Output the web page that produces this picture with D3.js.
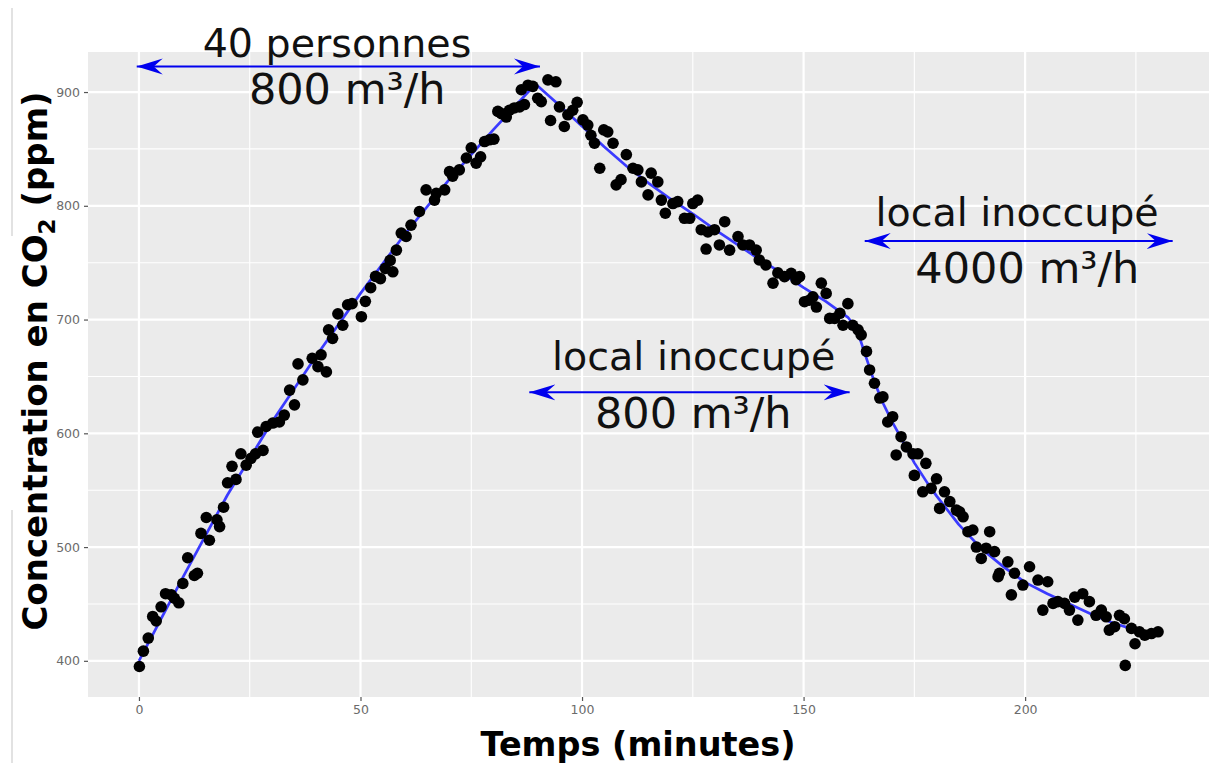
<!DOCTYPE html>
<html>
<head>
<meta charset="utf-8">
<script src="https://cdn.jsdelivr.net/npm/d3@7"></script>
<style>
  html, body { margin: 0; padding: 0; background: #ffffff; }
  svg { display: block; }
  text { font-family: "DejaVu Sans", Verdana, sans-serif; }
</style>
</head>
<body>
<svg id="chart" width="1209" height="763"></svg>
<script>
// CO2 measurements: time (minutes) and concentration (ppm)
const sampleTimes = [
  0.1, 1, 2.1, 3.1, 3.9, 5, 6, 7.3, 8, 9, 9.9, 11, 12.5, 13.2, 14, 15.2, 15.9, 17.6, 18.2, 19.1,
  20, 21, 21.9, 23, 24.2, 25.3, 26.3, 26.8, 28, 28.7, 30.2, 31.7, 32.8, 34, 35.1, 35.9, 37, 39.1, 40.4, 41.1,
  42.3, 42.8, 43.7, 44.9, 46, 47.1, 48.1, 50.2, 51.1, 52.3, 53.4, 54.5, 55.6, 56.7, 57.3, 58.1, 59.2, 60.3, 61.4, 63.3,
  64.8, 66.7, 67.1, 69, 70.1, 70.8, 72.3, 73.9, 75, 76.1, 77.1, 78, 79.1, 80.1, 81, 81.8, 82.9, 83.6, 84.7, 85.9,
  86.3, 87, 87.8, 88.9, 90, 90.8, 92.3, 92.9, 94.1, 94.9, 96, 96.8, 97.9, 98.9, 100.2, 101.3, 102, 102.8, 104, 104.9,
  105.8, 107, 107.7, 108.8, 110, 111.5, 112.6, 113.4, 114.9, 115.6, 117.1, 117.9, 118.8, 120.5, 121.6, 123.1, 124.3, 125, 126.1, 126.9,
  128, 128.4, 129.9, 131, 132.2, 133.3, 135.2, 136.3, 137.8, 139.3, 140, 141.5, 143.1, 144.2, 145.7, 147.2, 148.3, 149.1, 150.2, 151.3,
  152.1, 152.9, 154, 155.1, 155.9, 157, 158.2, 158.9, 160, 161.1, 162.3, 163, 164.2, 164.9, 166, 167.2, 167.9, 169, 170.1, 170.9,
  172, 173.2, 174.7, 175, 175.8, 176.9, 177.6, 178.8, 180, 180.7, 181.8, 183, 184.5, 185.2, 186, 187.1, 188.2, 189, 190.1, 191.2,
  192, 193.1, 193.9, 194.2, 196.1, 196.9, 197.6, 199.5, 201, 202.9, 204, 205.1, 206.3, 207.4, 208.9, 210, 211.2, 211.9, 213, 214.5,
  216, 217.2, 218.3, 219, 220.2, 221.3, 222.4, 222.6, 224, 224.8, 225.8, 227, 228.5, 230
];
const sampleValues = [
  395, 408.5, 420, 439, 435, 447.5, 459, 458, 455, 451, 468, 490.6, 475, 477, 512, 526, 506, 524, 518, 535,
  556.5, 571, 559.5, 582, 572, 578, 582, 601, 585, 606, 609, 610, 616, 638, 625, 661, 647, 666, 658.6, 669,
  654, 691, 683.5, 705, 695, 713, 714, 702.5, 716, 728, 738, 736, 745, 752, 742, 761, 776, 773, 783, 795,
  814, 805, 811, 814, 830, 826, 831.6, 842, 851, 837.5, 843, 856.5, 858, 858.6, 883, 881, 878, 884, 886, 887,
  902, 889, 906, 905, 894.6, 891.6, 910.7, 875, 909, 887, 869.7, 880, 884, 891, 875.5, 871, 862, 855, 833, 866.7,
  865, 855, 818.4, 823, 845, 833, 831.6, 821, 809.6, 828.7, 821, 805, 793.5, 802, 803.7, 789, 789, 802, 805, 779,
  762, 777, 779, 765.6, 786, 761, 773, 765.6, 765.6, 761, 752.4, 748, 732, 741, 737.7, 740.7, 735, 737.7, 715.7, 717,
  720, 711, 732, 723, 701, 701, 705.5, 695, 714, 695, 691, 686.5, 672, 655.7, 644, 631, 632, 610, 614.6, 581,
  597, 588, 582, 563, 582, 548.6, 573.6, 551.6, 560, 534, 548.6, 540, 532.5, 531, 526.6, 513.5, 515, 500, 490, 499,
  513.5, 496, 474, 477, 487, 458, 477, 466.6, 482.7, 471, 444.6, 469.5, 450.5, 452, 450.5, 444.6, 456, 435.8, 459, 452,
  440, 444.6, 438.7, 427, 430, 440, 437, 396, 428.5, 415, 425.5, 422.6, 424, 425.5
];

// Fitted model curve (vertices of the blue line)
const fitTimes = [0, 10, 20, 30, 40, 50, 60, 70, 80, 89.5, 95, 100, 105, 110, 115, 120, 125, 130, 135, 140,
  145, 150, 155, 160, 161, 162, 163, 164, 166, 168, 170, 172, 175, 178, 180, 185, 190, 195, 200, 205,
  210, 215, 220, 225, 230];
const fitValues = [400, 474, 546, 610, 668, 723, 775, 823, 867, 907, 888, 870, 852, 835, 820, 806, 793, 779, 766, 753,
  741, 728, 716, 702, 697, 690, 680, 668, 645, 626, 610, 596, 574, 556, 545, 520, 499, 483, 469, 459,
  450, 441, 433, 427, 422];

// Phase annotations: arrow span (minutes), arrow level (ppm), and the two text lines
const phaseLabels = [
  { from: -0.5, to: 90.5, level: 922.5, line1: "40 personnes", t1: 44.7, v1: 930.8, line2: "800 m³/h", t2: 47, v2: 889.5 },
  { from: 88.1, to: 160.4, level: 636, line1: "local inoccupé", t1: 125.2, v1: 655.6, line2: "800 m³/h", t2: 125.1, v2: 604.6 },
  { from: 163.8, to: 233.3, level: 769, line1: "local inoccupé", t1: 198.2, v1: 782, line2: "4000 m³/h", t2: 200.5, v2: 732 }
];

const xMajorTicks = [0, 50, 100, 150, 200];
const xMinorTicks = [25, 75, 125, 175, 225];
const yMajorTicks = [400, 500, 600, 700, 800, 900];
const yMinorTicks = [450, 550, 650, 750, 850];

const svg = d3.select("#chart");
const panel = { left: 88, right: 1209, top: 52, bottom: 697 };

const x = d3.scaleLinear().domain([-11.5, 241.5]).range([panel.left, panel.right]);
const y = d3.scaleLinear().domain([368.2, 935.2]).range([panel.bottom, panel.top]);

// thin frame line on the far left
svg.append("line").attr("x1", 12).attr("x2", 12).attr("y1", 8).attr("y2", 236)
  .attr("stroke", "#d9d9d9").attr("stroke-width", 1.5);
svg.append("line").attr("x1", 12).attr("x2", 12).attr("y1", 510).attr("y2", 763)
  .attr("stroke", "#d9d9d9").attr("stroke-width", 1.5);

// panel background
svg.append("rect")
  .attr("x", panel.left).attr("y", panel.top)
  .attr("width", panel.right - panel.left).attr("height", panel.bottom - panel.top)
  .attr("fill", "#ebebeb");

const grid = svg.append("g");
grid.selectAll(".ymin").data(yMinorTicks).join("line")
  .attr("x1", panel.left).attr("x2", panel.right)
  .attr("y1", d => y(d)).attr("y2", d => y(d))
  .attr("stroke", "#ffffff").attr("stroke-width", 1.1);
grid.selectAll(".xmin").data(xMinorTicks).join("line")
  .attr("y1", panel.top).attr("y2", panel.bottom)
  .attr("x1", d => x(d)).attr("x2", d => x(d))
  .attr("stroke", "#ffffff").attr("stroke-width", 1.1);
grid.selectAll(".ymaj").data(yMajorTicks).join("line")
  .attr("x1", panel.left).attr("x2", panel.right)
  .attr("y1", d => y(d)).attr("y2", d => y(d))
  .attr("stroke", "#ffffff").attr("stroke-width", 2.2);
grid.selectAll(".xmaj").data(xMajorTicks).join("line")
  .attr("y1", panel.top).attr("y2", panel.bottom)
  .attr("x1", d => x(d)).attr("x2", d => x(d))
  .attr("stroke", "#ffffff").attr("stroke-width", 2.2);

// axes
const xAxis = d3.axisBottom(x).tickValues(xMajorTicks).tickSize(4).tickPadding(4);
const yAxis = d3.axisLeft(y).tickValues(yMajorTicks).tickSize(4).tickPadding(4);

const gx = svg.append("g").attr("transform", `translate(0,${panel.bottom})`).call(xAxis);
const gy = svg.append("g").attr("transform", `translate(${panel.left},0)`).call(yAxis);
[gx, gy].forEach(g => {
  g.select(".domain").remove();
  g.selectAll(".tick line").attr("stroke", "#555").attr("stroke-width", 1.2);
  g.selectAll(".tick text").attr("fill", "#6b6b6b").attr("font-size", 12.5)
    .attr("font-family", "DejaVu Sans, sans-serif");
});

// fitted curve
const line = d3.line().x((d, i) => x(fitTimes[i])).y(d => y(d));
svg.append("path")
  .datum(fitValues)
  .attr("d", line)
  .attr("fill", "none")
  .attr("stroke", "#3a3aff")
  .attr("stroke-width", 2.7)
  .attr("stroke-linejoin", "round");

// measurements
svg.append("g").selectAll("circle")
  .data(sampleValues)
  .join("circle")
  .attr("cx", (d, i) => x(sampleTimes[i]))
  .attr("cy", d => y(d))
  .attr("r", 5.8)
  .attr("fill", "#000000");

// arrow heads
const defs = svg.append("defs");
defs.append("marker")
  .attr("id", "head")
  .attr("viewBox", "-26 -10 28 20")
  .attr("refX", 0).attr("refY", 0)
  .attr("markerWidth", 28).attr("markerHeight", 20)
  .attr("markerUnits", "userSpaceOnUse")
  .attr("orient", "auto-start-reverse")
  .append("path")
  .attr("d", "M0,0 L-26,-8 L-17,0 L-26,8 Z")
  .attr("fill", "#0000ee");

const notes = svg.append("g");
phaseLabels.forEach(p => {
  notes.append("line")
    .attr("x1", x(p.from)).attr("x2", x(p.to))
    .attr("y1", y(p.level)).attr("y2", y(p.level))
    .attr("stroke", "#0000ee").attr("stroke-width", 2)
    .attr("marker-start", "url(#head)")
    .attr("marker-end", "url(#head)");
  notes.append("text")
    .attr("x", x(p.t1)).attr("y", y(p.v1))
    .attr("text-anchor", "middle")
    .attr("font-size", 39.6).attr("fill", "#111")
    .text(p.line1);
  notes.append("text")
    .attr("x", x(p.t2)).attr("y", y(p.v2))
    .attr("text-anchor", "middle")
    .attr("font-size", 43).attr("fill", "#111")
    .text(p.line2);
});

// axis titles
svg.append("text")
  .attr("x", 638).attr("y", 756)
  .attr("text-anchor", "middle")
  .attr("font-size", 33.5).attr("font-weight", "bold")
  .text("Temps (minutes)");

const yTitle = svg.append("text")
  .attr("transform", "translate(47,361) rotate(-90)")
  .attr("text-anchor", "middle")
  .attr("font-size", 34).attr("font-weight", "bold");
yTitle.append("tspan").text("Concentration en CO");
yTitle.append("tspan").attr("font-size", 23).attr("dy", 8).text("2");
yTitle.append("tspan").attr("dy", -8).text(" (ppm)");
</script>
</body>
</html>
